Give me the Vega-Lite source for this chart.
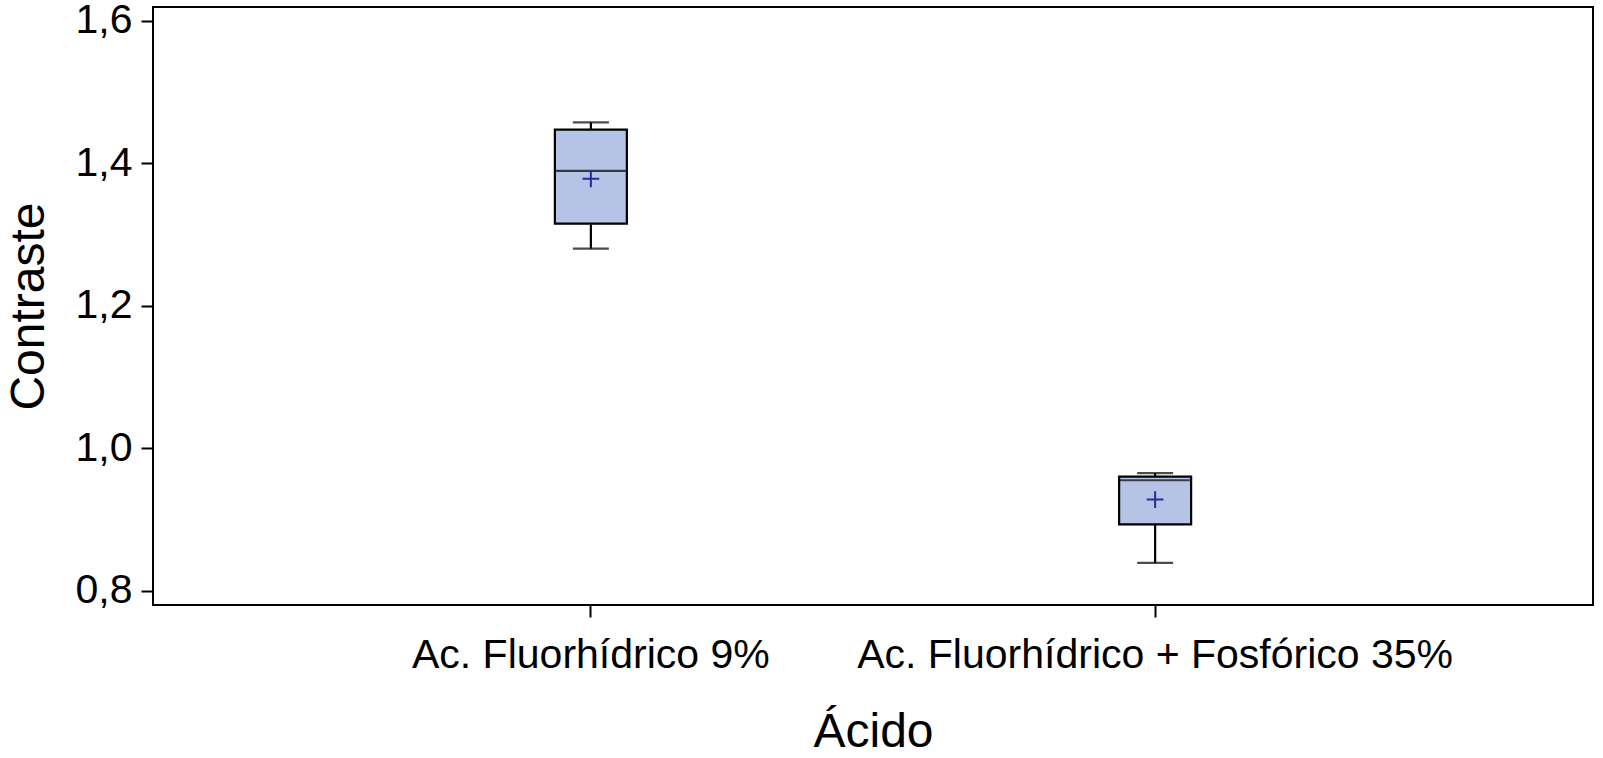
{
  "$schema": "https://vega.github.io/schema/vega-lite/v6.json",
  "width": 1440,
  "height": 598,
  "autosize": {"type": "none"},
  "padding": {"left": 153, "top": 7, "right": 10, "bottom": 153},
  "background": "white",
  "config": {
    "font": "Liberation Sans",
    "view": {"stroke": "black", "strokeWidth": 2},
    "axis": {"grid": false, "domain": false, "tickColor": "black", "tickWidth": 2, "tickSize": 12, "labelColor": "black", "titleColor": "black", "labelFont": "Liberation Sans", "titleFont": "Liberation Sans", "labelFontSize": 41, "titleFontSize": 48, "titleFontWeight": "normal"}
  },
  "data": {
    "values": [
      {"Acido": "Ac. Fluorhídrico 9%", "lower": 1.280, "q1": 1.315, "median": 1.389, "q3": 1.447, "upper": 1.457, "mean": 1.378},
      {"Acido": "Ac. Fluorhídrico + Fosfórico 35%", "lower": 0.839, "q1": 0.893, "median": 0.955, "q3": 0.960, "upper": 0.965, "mean": 0.928}
    ]
  },
  "encoding": {
    "x": {
      "field": "Acido", "type": "nominal", "sort": null,
      "scale": {"type": "band", "paddingInner": 0, "paddingOuter": 0.276},
      "axis": {"title": "Ácido", "labelAngle": 0, "labelPadding": 18, "titlePadding": 33, "labelLimit": 0}
    }
  },
  "layer": [
    {
      "mark": {"type": "rule", "color": "black", "strokeWidth": 2.2},
      "encoding": {
        "y": {"field": "lower", "type": "quantitative", "scale": {"domain": [0.78, 1.619], "nice": false, "zero": false},
          "axis": {"title": "Contraste", "values": [0.8, 1.0, 1.2, 1.4, 1.6], "labelExpr": "replace(format(datum.value, '.1f'), '.', ',')", "labelPadding": 9, "titlePadding": 22}},
        "y2": {"field": "upper"}
      }
    },
    {
      "mark": {"type": "tick", "color": "black", "thickness": 2.2, "size": 36, "orient": "horizontal"},
      "encoding": {"y": {"field": "lower", "type": "quantitative"}}
    },
    {
      "mark": {"type": "tick", "color": "black", "thickness": 2.2, "size": 36, "orient": "horizontal"},
      "encoding": {"y": {"field": "upper", "type": "quantitative"}}
    },
    {
      "mark": {"type": "bar", "fill": "#b5c4e6", "stroke": "black", "strokeWidth": 2.2, "size": 72},
      "encoding": {"y": {"field": "q1", "type": "quantitative"}, "y2": {"field": "q3"}}
    },
    {
      "mark": {"type": "tick", "color": "black", "thickness": 2.2, "size": 72, "orient": "horizontal"},
      "encoding": {"y": {"field": "median", "type": "quantitative"}}
    },
    {
      "mark": {"type": "point", "shape": "M-1,0H1M0,-1V1", "filled": false, "stroke": "#2a2a9a", "strokeWidth": 2, "size": 280, "opacity": 1},
      "encoding": {"y": {"field": "mean", "type": "quantitative"}}
    }
  ]
}
